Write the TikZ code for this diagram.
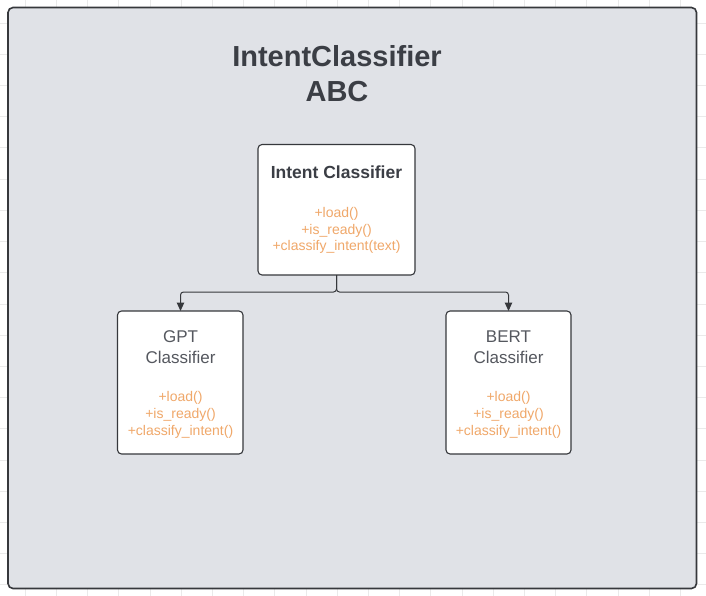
\documentclass[tikz,border=0pt]{standalone}
\usepackage{fontspec}
\setmainfont{Liberation Sans}
\usetikzlibrary{arrows.meta}
\definecolor{panel}{HTML}{E0E2E7}
\definecolor{edge}{HTML}{36383C}
\definecolor{titlegray}{HTML}{3B3E45}
\definecolor{namegray}{HTML}{55585F}
\definecolor{meth}{HTML}{F0A86A}
\definecolor{gridc}{HTML}{EAEAEA}
\tikzset{
  classbox/.style={draw=edge, fill=white, line width=1.1pt, rounded corners=4pt},
  methtext/.style={text=meth, font=\fontsize{14}{16.7}\selectfont, align=center, inner sep=0pt},
  nametext/.style={text=namegray, font=\fontsize{17}{21}\selectfont, align=center, inner sep=0pt},
  conn/.style={draw=edge, line width=1pt, rounded corners=3pt, -{Triangle[length=8.5pt,width=7.5pt]}},
}
\begin{document}
\begin{tikzpicture}[x=1pt,y=-1pt]
\useasboundingbox (0,0) rectangle (706,596);
\fill[white] (0,0) rectangle (706,596);
% faint grid
\foreach \i in {0,...,22} {\draw[gridc, line width=0.6pt] ({25+31.2*\i},0) -- ({25+31.2*\i},596);}
\foreach \j in {0,...,18} {\draw[gridc, line width=0.6pt] (0,{23+31.2*\j}) -- (706,{23+31.2*\j});}
% panel
\draw[draw=edge, fill=panel, line width=1.6pt, rounded corners=5pt] (8,7.5) rectangle (696.5,588.5);
% title
\node[text=titlegray, font=\bfseries\fontsize{29}{35}\selectfont, align=center, inner sep=0pt] (title) at (337,74) {IntentClassifier\\ABC};
% boxes
\draw[classbox] (258,144.5) rectangle (415,275);
\coordinate (icS) at (336.5,275);
\node[text=titlegray, font=\bfseries\fontsize{17.5}{21}\selectfont, inner sep=0pt] (icname) at (336.5,172) {Intent Classifier};
\node[methtext] (icmeth) at (336.5,230.5) {+load()\\+is\_ready()\\+classify\_intent(text)};

\draw[classbox] (117.5,311) rectangle (243,454);
\coordinate (gptN) at (180.5,311);
\node[nametext] (gptname) at (180.5,347) {GPT\\Classifier};
\node[methtext] (gptmeth) at (180.5,415) {+load()\\+is\_ready()\\+classify\_intent()};

\draw[classbox] (446,311) rectangle (571,454);
\coordinate (bertN) at (508.5,311);
\node[nametext] (bertname) at (508.5,347) {BERT\\Classifier};
\node[methtext] (bertmeth) at (508.5,415) {+load()\\+is\_ready()\\+classify\_intent()};

% connectors
\draw[conn] (icS) -- (336.5,292) -| (gptN);
\draw[conn] (icS) -- (336.5,292) -| (bertN);
\end{tikzpicture}
\end{document}
